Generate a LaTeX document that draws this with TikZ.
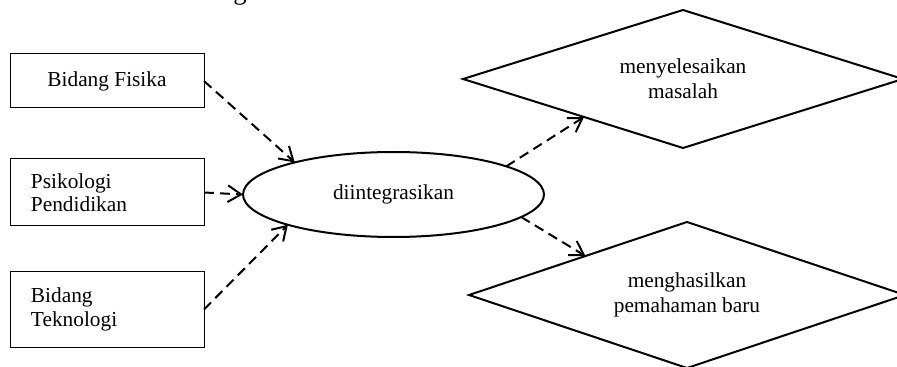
\documentclass[tikz,border=0pt]{standalone}
\usepackage{fontspec}
\setmainfont{Liberation Serif}
\usetikzlibrary{arrows.meta,shapes.geometric}
\begin{document}
\begin{tikzpicture}[x=0.75pt,y=-0.75pt,
  font=\fontsize{16}{17.5}\selectfont,
  srcbox/.style={draw, line width=0.75pt, minimum width=145.5pt, inner ysep=0pt, outer sep=0pt},
  leftbox/.style={srcbox, align=left, text width=114pt, inner xsep=15.75pt},
  oval/.style={draw, ellipse, line width=1.5pt, minimum width=225.75pt, minimum height=63.75pt, inner sep=0pt, outer sep=0pt},
  decision/.style={draw, diamond, line width=1.5pt, align=center, inner sep=0pt, outer sep=0pt, font=\fontsize{16}{18.75}\selectfont},
  flow/.style={line width=1.5pt, dash pattern=on 7.5pt off 4.5pt, -{Straight Barb[length=10pt,width=12.5pt,line width=1.5pt]}}
]
\useasboundingbox (0,0) rectangle (897,367);
\begin{scope}
\clip (0,0) rectangle (897,367);
\node[anchor=base, font=\fontsize{20}{24}\selectfont, inner sep=0pt] (cut) at (240,0) {g};

\node[srcbox, minimum height=40.5pt] (b1) at (107,81) {Bidang Fisika};
\node[leftbox, minimum height=50.25pt] (b2) at (107,192.5) {Psikologi\\Pendidikan};
\node[leftbox, minimum height=56.25pt] (b3) at (107,309.5) {Bidang\\Teknologi};

\node[oval] (ell) at (393.5,194.5) {diintegrasikan};

\node[decision, aspect=3.19, minimum width=330pt, minimum height=103.5pt] (d1) at (683,79) {menyelesaikan\\masalah};
\node[decision, aspect=2.99, minimum width=327pt, minimum height=109.5pt] (d2) at (687,295) {menghasilkan\\pemahaman baru};

\draw[flow] (b1.east) -- (ell.162.4);
\draw[flow] (b2.east) -- (ell.west);
\draw[flow] (b3.east) -- (ell.196.7);
\draw[flow] (ell.14.1) -- (d1.201.7);
\draw[flow] (ell.-10.3) -- (d2.159.6);
\end{scope}
\end{tikzpicture}
\end{document}
